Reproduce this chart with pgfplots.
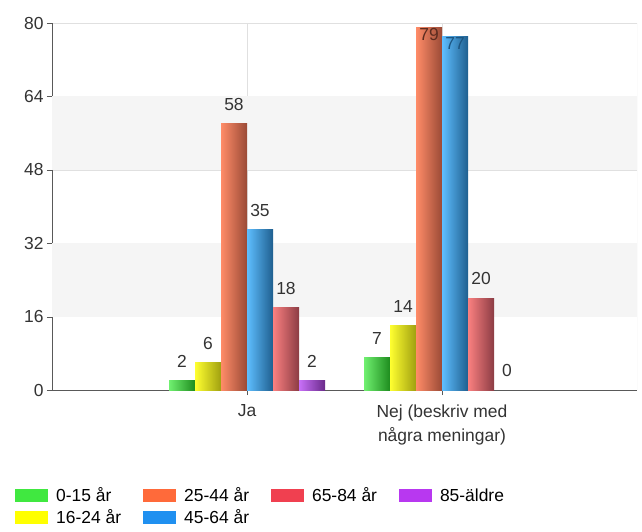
\documentclass[border=0pt]{standalone}
\usepackage{pgfplots}
\pgfplotsset{compat=1.18}
\usepackage{fontspec}
\setmainfont{Liberation Sans}
\usetikzlibrary{calc}
\definecolor{gL}{HTML}{70F070}\definecolor{gR}{HTML}{1E8C1E}
\definecolor{yL}{HTML}{FFFF30}\definecolor{yR}{HTML}{A0A010}
\definecolor{oL}{HTML}{FF8C68}\definecolor{oR}{HTML}{9A4A36}
\definecolor{bL}{HTML}{5EBEFF}\definecolor{bR}{HTML}{1F5F8F}
\definecolor{rL}{HTML}{FA8080}\definecolor{rR}{HTML}{8C3C44}
\definecolor{pL}{HTML}{C870F8}\definecolor{pR}{HTML}{6A2A8A}
\definecolor{gLeg}{HTML}{40E840}\definecolor{yLeg}{HTML}{FFFF00}
\definecolor{oLeg}{HTML}{FF6A3A}\definecolor{bLeg}{HTML}{2090F0}
\definecolor{rLeg}{HTML}{F04050}\definecolor{pLeg}{HTML}{B838F0}
\pgfplotsset{
  gS/.style={forget plot, bar shift=-65bp, draw=none, left color=gL, right color=gR},
  yS/.style={forget plot, bar shift=-39bp, draw=none, left color=yL, right color=yR},
  oS/.style={forget plot, bar shift=-13bp, draw=none, left color=oL, right color=oR},
  bS/.style={forget plot, bar shift=13bp, draw=none, left color=bL, right color=bR},
  rS/.style={forget plot, bar shift=39bp, draw=none, left color=rL, right color=rR},
  pS/.style={forget plot, bar shift=65bp, draw=none, left color=pL, right color=pR},
  inside/.style={nodes near coords style={anchor=north, yshift=-14bp, text=#1}},
}
\begin{document}
\begin{tikzpicture}
\begin{axis}[name=ax, scale only axis, width=585bp, height=367bp,
  ybar=0pt, bar width=26bp,
  xmin=0, xmax=3, ymin=0, ymax=80,
  xtick={1,2}, xticklabels={Ja,{Nej (beskriv med\\några meningar)}},
  ytick={0,16,32,48,64,80},
  axis x line*=bottom, axis y line*=left,
  axis line style={black!65},
  tick style={black!65}, major tick length=5bp, tick align=outside,
  ymajorgrids, xmajorgrids, grid style={black!12},
  font=\fontsize{17.5}{21}\selectfont,
  ticklabel style={font=\fontsize{17.5}{21}\selectfont, text=black!80},
  x tick label style={align=center, font=\fontsize{17.5}{24}\selectfont, yshift=-6bp},
  /pgf/number format/assume math mode=true,
  nodes near coords,
  every node near coord/.append style={font=\fontsize{17.5}{21}\selectfont, text=black!80, anchor=south, inner sep=0pt, yshift=13bp},
  legend columns=4,
  legend style={at={(-0.0632,-0.266)}, anchor=north west, draw=none, fill=none,
    inner sep=0pt, row sep=6bp, font=\fontsize{17.5}{21}\selectfont,
    nodes={inner sep=0pt},
    /tikz/every odd column/.append style={column sep=8bp},
    /tikz/every even column/.append style={column sep=22bp}},
  legend cell align=left,
  legend image code/.code={\fill[#1, draw=none] (0bp,-6.5bp) rectangle (33bp,6.5bp);},
]
\fill[black!4] (axis cs:0,16) rectangle (axis cs:3,32);
\fill[black!4] (axis cs:0,48) rectangle (axis cs:3,64);
\draw[black!12] (axis cs:3,0) -- (axis cs:3,80);
% Ja
\addplot[gS] coordinates {(1,2)};
\addplot[yS] coordinates {(1,6)};
\addplot[oS] coordinates {(1,58)};
\addplot[bS] coordinates {(1,35)};
\addplot[rS] coordinates {(1,18)};
\addplot[pS] coordinates {(1,2)};
% Nej
\addplot[gS] coordinates {(2,7)};
\addplot[yS] coordinates {(2,14)};
\addplot[oS, inside={oR!60!black}] coordinates {(2,79)};
\addplot[bS, inside={bR!90!black}] coordinates {(2,77)};
\addplot[rS] coordinates {(2,20)};
\addplot[pS] coordinates {(2,0)};
\addlegendimage{fill=gLeg}\addlegendentry{0-15 år}
\addlegendimage{fill=oLeg}\addlegendentry{25-44 år}
\addlegendimage{fill=rLeg}\addlegendentry{65-84 år}
\addlegendimage{fill=pLeg}\addlegendentry{85-äldre}
\addlegendimage{fill=yLeg}\addlegendentry{16-24 år}
\addlegendimage{fill=bLeg}\addlegendentry{45-64 år}
\end{axis}
\pgfresetboundingbox
\path ($(ax.south west)+(-52bp,-142bp)$) rectangle ($(ax.north east)+(5bp,23bp)$);
\end{tikzpicture}
\end{document}
